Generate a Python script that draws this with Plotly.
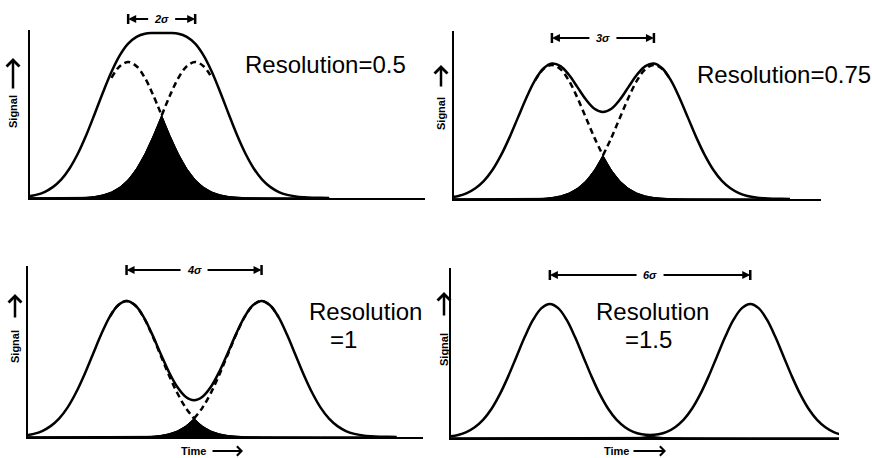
import numpy as np
import plotly.graph_objects as go

# ---------------- data ----------------
TITLE_LINE1 = ["Resolution=0.5", "Resolution=0.75", "Resolution", "Resolution"]
TITLE_LINE2 = ["", "", "=1", "=1.5"]
SEPARATION_LABELS = ["2σ", "3σ", "4σ", "6σ"]
PEAK_SEPARATION_SIGMA = [2, 3, 4, 6]            # distance between peak apexes, in σ
FIRST_PEAK_TIME = [2.93, 2.88, 2.92, 2.96]      # apex of first peak, in σ from signal axis
# relative peak height at offsets from the apex (σ units), one half of a symmetric peak
PROFILE_OFFSET = [0.0, 0.25, 0.5, 0.75, 1.0, 1.25, 1.5, 1.75, 2.0,
                  2.25, 2.5, 2.75, 3.0, 3.25, 3.5, 3.75, 4.0]
PROFILE_HEIGHT = [1.0, 0.969, 0.883, 0.755, 0.607, 0.458, 0.325, 0.216, 0.135,
                  0.080, 0.044, 0.023, 0.011, 0.005, 0.002, 0.001, 0.0003]
Y_LABEL = "Signal"
X_LABEL = "Time"

# ---------------- layout (pixels in the 872x458 canvas) ----------------
W, H = 872, 458
# origin x, origin y, x-axis end, y-axis top, peak height px
BOXES = [(30, 198, 425, 30, 136),
         (454, 199, 821, 31, 134),
         (28, 437, 423, 266, 136),
         (451, 438, 839, 268, 134)]
SIGMA_PX = [33.5, 34.0, 33.75, 33.4]
MARKER_Y = [19, 38, 270, 275]
TITLE_POS = [[(243, 64)], [(695, 74)], [(307, 311), (328, 339)], [(594, 311), (623, 339)]]
SIGNAL_POS = [(13, 58, 90, 112), (441, 65, 88, 114), (15, 294, 319, 347), (444, 292, 317, 349)]
TIME_POS = [None, None, (193.5, 211, 243, 451), (616.5, 632, 666, 451)]
FONT = "Liberation Sans, Arial, sans-serif"


def px(x):
    return x / W


def py(y):
    return 1 - y / H


def peak(t, centre):
    return np.interp(np.abs(t - centre), PROFILE_OFFSET, PROFILE_HEIGHT, right=0.0)


fig = go.Figure()
annotations = []
shapes = []

for i in range(4):
    n = "" if i == 0 else str(i + 1)
    xa, ya = "x" + n, "y" + n
    x0, y0, x1, yt, hpx = BOXES[i]
    L = (x1 - x0) / SIGMA_PX[i]
    c1 = FIRST_PEAK_TIME[i]
    c2 = c1 + PEAK_SEPARATION_SIGMA[i]
    mid = (c1 + c2) / 2
    t = c1 + np.arange(-4, PEAK_SEPARATION_SIGMA[i] + 4 + 1e-9, 0.25)
    g1 = peak(t, c1)
    g2 = peak(t, c2)
    total = g1 + g2
    overlap = np.minimum(g1, g2)

    # filled overlap region: linear underlay, then two smooth halves so the apex stays sharp
    fig.add_trace(go.Scatter(x=t, y=overlap, mode="lines",
                             line=dict(color="black", width=1),
                             fill="tozeroy", fillcolor="black",
                             xaxis=xa, yaxis=ya, hoverinfo="skip", showlegend=False))
    left = t <= mid + 1e-9
    right = t >= mid - 1e-9
    for mask in (left, right):
        fig.add_trace(go.Scatter(x=t[mask], y=overlap[mask], mode="lines",
                                 line=dict(color="black", width=1, shape="spline"),
                                 fill="tozeroy", fillcolor="black",
                                 xaxis=xa, yaxis=ya, hoverinfo="skip", showlegend=False))

    # dashed individual peaks where they separate from the envelope
    if peak(np.array([mid]), c1)[0] > 0.05:
        m1 = (t >= c1 - 0.5 - 1e-9) & left
        m2 = (t <= c2 + 0.5 + 1e-9) & right
        for mm, gg in ((m1, g1), (m2, g2)):
            fig.add_trace(go.Scatter(x=t[mm], y=gg[mm], mode="lines",
                                     line=dict(color="black", width=2.5, dash="6px,4px", shape="spline"),
                                     xaxis=xa, yaxis=ya, hoverinfo="skip", showlegend=False))

    # envelope
    fig.add_trace(go.Scatter(x=t, y=total, mode="lines",
                             line=dict(color="black", width=2.5, shape="spline"),
                             xaxis=xa, yaxis=ya, hoverinfo="skip", showlegend=False))

    axis_common = dict(showline=True, linecolor="black", linewidth=2, showgrid=False,
                       zeroline=False, showticklabels=False, ticks="", fixedrange=True)
    fig.update_layout({
        "xaxis" + n: dict(domain=[px(x0), px(x1)], range=[0, L], anchor=ya, **axis_common),
        "yaxis" + n: dict(domain=[py(y0), py(yt)], range=[0, (y0 - yt) / hpx], anchor=xa, **axis_common),
    })

    # separation marker |<-- kσ -->|
    ym = MARKER_Y[i]
    gap = 12 / SIGMA_PX[i]
    for c, tail in ((c1, mid - gap), (c2, mid + gap)):
        shapes.append(dict(type="line", xref=xa, yref="paper", x0=c, x1=c,
                           y0=py(ym - 5), y1=py(ym + 5), line=dict(color="black", width=2.5)))
        annotations.append(dict(xref=xa, yref="paper", x=c, y=py(ym), axref=xa, ax=tail,
                                ayref="pixel", ay=0, text="", showarrow=True,
                                arrowhead=2, arrowsize=0.8, arrowwidth=2, arrowcolor="black",
                                standoff=0, startstandoff=0))
    annotations.append(dict(xref=xa, yref="paper", x=mid, y=py(ym), text="<b><i>" + SEPARATION_LABELS[i] + "</i></b>",
                            showarrow=False, font=dict(family=FONT, size=11, color="black"),
                            xanchor="center", yanchor="middle"))

    # resolution text
    for (tx, tyy), txt in zip(TITLE_POS[i], [TITLE_LINE1[i], TITLE_LINE2[i]]):
        annotations.append(dict(xref="paper", yref="paper", x=px(tx), y=py(tyy), text=txt,
                                showarrow=False, xanchor="left", yanchor="middle",
                                font=dict(family=FONT, size=24, color="black")))

    # Signal label with upward arrow
    sx, stip, stail, sty = SIGNAL_POS[i]
    annotations.append(dict(xref="paper", yref="paper", x=px(sx), y=py(stip), ax=0, ay=stail - stip,
                            text="", showarrow=True, arrowhead=4, arrowsize=1, arrowwidth=2.5,
                            arrowcolor="black", standoff=0))
    annotations.append(dict(xref="paper", yref="paper", x=px(sx), y=py(sty), text="<b>" + Y_LABEL + "</b>",
                            textangle=-90, showarrow=False, font=dict(family=FONT, size=11, color="black"),
                            xanchor="center", yanchor="middle"))

    # Time label with arrow
    if TIME_POS[i] is not None:
        tx, a0, a1, tyy = TIME_POS[i]
        annotations.append(dict(xref="paper", yref="paper", x=px(tx), y=py(tyy), text="<b>" + X_LABEL + "</b>",
                                showarrow=False, font=dict(family=FONT, size=11, color="black"),
                                xanchor="center", yanchor="middle"))
        annotations.append(dict(xref="paper", yref="paper", x=px(a1), y=py(tyy), ax=-(a1 - a0), ay=0,
                                text="", showarrow=True, arrowhead=4, arrowsize=1, arrowwidth=1.8,
                                arrowcolor="black", standoff=0))

fig.update_layout(width=W, height=H, margin=dict(l=0, r=0, t=0, b=0),
                  paper_bgcolor="white", plot_bgcolor="white",
                  showlegend=False, hovermode=False,
                  annotations=annotations, shapes=shapes)

fig.write_html("out.html", config={"displayModeBar": False, "staticPlot": True},
               post_script="document.body.style.margin='0';document.body.style.overflow='hidden';")
